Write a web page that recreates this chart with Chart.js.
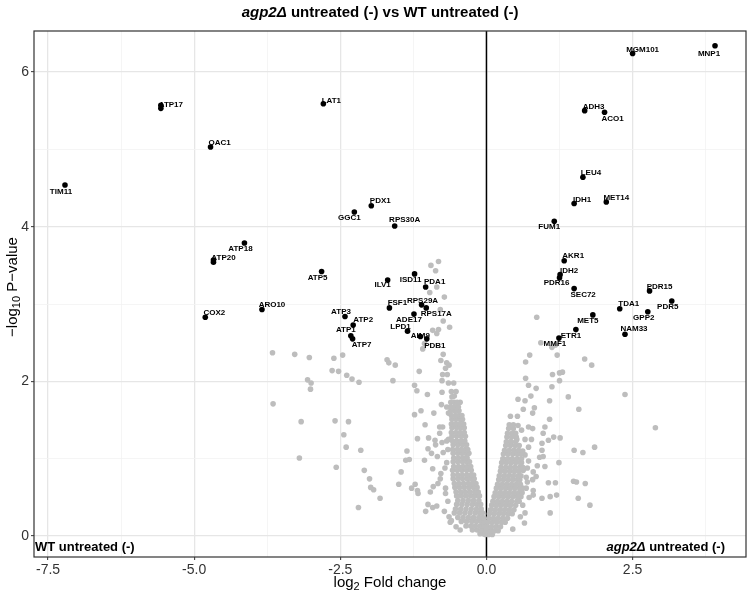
<!DOCTYPE html>
<html>
<head>
<meta charset="utf-8">
<script src="https://cdn.jsdelivr.net/npm/chart.js@4.4.1/dist/chart.umd.min.js"></script>
<style>
  html, body { margin: 0; padding: 0; background: #fff; }
  #wrap { width: 750px; height: 595px; }
</style>
</head>
<body>
<div id="wrap"><canvas id="volcano" width="750" height="595"></canvas></div>
<script>
// labelled genes (log2 fold change, -log10 p)
const geneNames = ['TIM11', 'ATP17', '', 'LAT1', 'OAC1', 'GGC1', 'PDX1', 'RPS30A', 'ATP18', 'ATP20', '', 'ATP5',
  'COX2', 'ARO10', 'ATP3', 'ATP2', 'ATP1', 'ATP7', 'ILV1', 'ISD11', 'PDA1', 'FSF1', 'RPS29A', 'RPS17A', 'ADE17',
  'LPD1', 'AIM9', 'PDB1', 'MGM101', 'MNP1', 'ADH3', 'ACO1', 'LEU4', 'IDH1', 'MET14', 'FUM1', 'AKR1', 'IDH2',
  'PDR16', 'SEC72', 'PDR15', 'PDR5', 'TDA1', 'GPP2', 'MET5', 'NAM33', 'ETR1', 'MMF1'];
const geneFC = [-7.21, -5.57, -5.57, -2.79, -4.72, -2.26, -1.97, -1.57, -4.14, -4.67, -4.67, -2.82,
  -4.81, -3.84, -2.42, -2.28, -2.32, -2.29, -1.69, -1.23, -1.04, -1.66, -1.11, -1.03, -1.24,
  -1.35, -1.13, -1.02, 2.50, 3.91, 1.68, 2.02, 1.65, 1.50, 2.05, 1.16, 1.33, 1.26,
  1.25, 1.50, 2.79, 3.17, 2.28, 2.76, 1.82, 2.37, 1.53, 1.24];
const geneLogP = [4.54, 5.53, 5.57, 5.59, 5.03, 4.19, 4.27, 4.01, 3.79, 3.54, 3.57, 3.42,
  2.83, 2.93, 2.84, 2.73, 2.59, 2.55, 3.31, 3.39, 3.22, 2.95, 2.99, 2.95, 2.87,
  2.65, 2.58, 2.55, 6.24, 6.34, 5.50, 5.48, 4.64, 4.30, 4.32, 4.07, 3.56, 3.38,
  3.34, 3.20, 3.17, 3.04, 2.94, 2.90, 2.86, 2.61, 2.67, 2.56];

// scattered non-significant proteins [log2FC, -log10 p]
const scatterLeft = [
  [-3.66, 2.37], [-3.28, 2.35], [-3.03, 2.31], [-3.06, 2.02], [-3.00, 1.98], [-3.01, 1.90], [-3.65, 1.71], [-3.17, 1.48], [-3.20, 1.01],
  [-2.61, 2.30], [-2.46, 2.34], [-2.64, 2.14], [-2.53, 2.13], [-2.39, 2.08], [-2.30, 2.03], [-2.18, 1.99],
  [-1.70, 2.28], [-1.67, 2.24], [-1.56, 2.21], [-1.60, 2.01], [-1.23, 1.95], [-1.19, 1.88], [-1.01, 1.83], [-1.15, 2.13], [-1.09, 2.42], [-1.06, 2.49],
  [-0.95, 3.50], [-0.82, 3.55], [-0.87, 3.43], [-0.85, 3.22], [-0.97, 3.15], [-0.72, 3.09], [-0.79, 2.93], [-0.74, 2.78], [-0.63, 2.70],
  [-0.82, 2.67], [-0.92, 2.66], [-0.85, 2.62], [-0.74, 2.35], [-0.78, 2.27], [-0.68, 2.24], [-0.64, 2.21], [-0.70, 2.17], [-0.75, 2.09],
  [-0.67, 2.09], [-0.76, 2.01], [-0.65, 1.98], [-0.56, 1.98], [-0.76, 1.86], [-0.60, 1.87], [-0.52, 1.87], [-0.59, 1.80], [-0.55, 1.81],
  [-0.45, 1.73], [-0.77, 1.70], [-0.68, 1.67], [-0.65, 1.59], [-0.90, 1.59], [-1.12, 1.62], [-1.23, 1.57], [-1.05, 1.44],
  [-2.59, 1.49], [-2.36, 1.48], [-2.44, 1.31], [-2.40, 1.15], [-2.15, 1.11], [-2.57, 0.89], [-2.09, 0.85], [-2.00, 0.74], [-1.98, 0.63],
  [-1.93, 0.60], [-1.82, 0.49], [-2.19, 0.37], [-1.46, 0.83], [-1.50, 0.67], [-1.36, 1.10], [-1.38, 0.98], [-1.32, 0.99], [-1.18, 1.26],
  [-0.99, 1.27], [-1.06, 0.98], [-1.00, 1.13], [-0.92, 0.87], [-1.22, 0.67], [-1.28, 0.62], [-1.17, 0.55], [-1.18, 0.59], [-1.00, 0.41],
  [-1.04, 0.32], [-0.92, 0.37], [-0.85, 0.39], [-0.96, 0.57], [-0.91, 0.64], [-0.83, 0.68], [-0.79, 0.74], [-0.78, 0.81],
  [-0.88, 1.24], [-0.87, 1.18], [-0.94, 1.07], [-0.84, 1.03], [-0.74, 1.08], [-0.80, 1.41], [-0.75, 1.41], [-0.80, 1.33], [-0.68, 1.23],
  [-0.76, 1.21], [-0.65, 1.25], [-0.70, 0.55], [-0.66, 0.45], [-0.72, 0.32], [-0.68, 0.95], [-0.71, 0.88], [-0.66, 1.12], [-0.70, 0.62],
  [-0.64, 0.25], [-0.62, 0.18], [-0.60, 0.20], [-0.52, 0.12], [-0.45, 0.08]
];
const scatterRight = [
  [0.86, 2.83], [0.93, 2.50], [1.12, 2.44], [1.18, 2.47], [0.74, 2.34], [0.67, 2.25], [1.21, 2.34], [1.68, 2.29], [1.80, 2.21], [1.13, 2.09],
  [1.25, 2.11], [1.30, 2.12], [0.67, 2.04], [0.72, 1.95], [0.85, 1.91], [1.12, 1.93], [1.25, 2.01], [1.40, 1.80], [1.58, 1.64], [2.37, 1.83],
  [2.89, 1.40], [0.54, 1.77], [0.66, 1.75], [0.76, 1.81], [0.63, 1.64], [0.82, 1.66], [0.79, 1.59], [1.08, 1.75], [0.41, 1.55], [0.53, 1.55],
  [0.54, 1.43], [0.60, 1.37], [0.72, 1.41], [0.79, 1.39], [1.00, 1.41], [1.08, 1.51], [0.97, 1.33], [1.15, 1.28], [1.26, 1.27], [1.06, 1.24],
  [0.95, 1.20], [0.77, 1.25], [0.66, 1.25], [0.52, 1.25], [0.41, 1.22], [1.50, 1.11], [1.65, 1.08], [1.85, 1.15], [0.95, 1.11], [0.91, 1.02],
  [0.97, 1.03], [1.24, 0.95], [0.72, 0.97], [0.87, 0.91], [1.00, 0.90], [0.63, 0.85], [0.80, 0.83], [0.68, 0.76], [0.79, 0.73], [0.85, 0.77],
  [1.06, 0.69], [1.18, 0.69], [1.49, 0.71], [1.54, 0.70], [1.69, 0.68], [0.68, 0.62], [0.80, 0.59], [0.73, 0.50], [0.80, 0.53], [0.95, 0.49],
  [1.09, 0.51], [1.20, 0.53], [1.57, 0.49], [1.77, 0.40], [1.09, 0.30], [0.65, 0.17], [0.45, 0.09], [0.62, 0.40], [0.66, 0.30], [0.58, 0.25],
  [0.70, 0.88], [0.66, 1.05], [0.72, 1.15], [0.70, 0.70], [0.60, 0.95], [0.62, 1.10]
];
// dense core of the volcano, rows of [-log10 p, [log2FC ...]]
const coreLeft = [
  [0.03, [-0.11, -0.05, 0.02]], [0.08, [-0.24, -0.16, -0.08, -0.01]], [0.13, [-0.35, -0.27, -0.19, -0.11, -0.04]],
  [0.19, [-0.43, -0.34, -0.25, -0.17, -0.09, -0.04]], [0.24, [-0.49, -0.40, -0.31, -0.22, -0.13, -0.06]],
  [0.30, [-0.55, -0.46, -0.37, -0.28, -0.19, -0.11, -0.07]], [0.35, [-0.53, -0.44, -0.35, -0.26, -0.17, -0.09]],
  [0.41, [-0.51, -0.42, -0.33, -0.24, -0.16, -0.10]], [0.46, [-0.49, -0.40, -0.31, -0.22, -0.13]],
  [0.52, [-0.51, -0.43, -0.35, -0.27, -0.19, -0.12]], [0.57, [-0.52, -0.44, -0.36, -0.28, -0.20, -0.14]],
  [0.63, [-0.54, -0.46, -0.38, -0.30, -0.22, -0.16]], [0.68, [-0.55, -0.47, -0.39, -0.31, -0.24, -0.18]],
  [0.74, [-0.57, -0.49, -0.41, -0.33, -0.26, -0.21]], [0.79, [-0.57, -0.49, -0.41, -0.33, -0.26, -0.22]],
  [0.85, [-0.58, -0.50, -0.42, -0.34, -0.26]], [0.90, [-0.56, -0.48, -0.40, -0.33, -0.27]],
  [0.96, [-0.57, -0.49, -0.41, -0.34, -0.29]], [1.01, [-0.56, -0.48, -0.40, -0.33]],
  [1.07, [-0.57, -0.49, -0.42, -0.35, -0.30]], [1.12, [-0.58, -0.50, -0.43, -0.36, -0.32]],
  [1.18, [-0.57, -0.49, -0.41, -0.34]], [1.23, [-0.58, -0.51, -0.44, -0.37]], [1.29, [-0.59, -0.51, -0.43, -0.36]],
  [1.34, [-0.60, -0.52, -0.45, -0.38]], [1.40, [-0.59, -0.51, -0.44, -0.38]], [1.45, [-0.60, -0.53, -0.46, -0.39]],
  [1.51, [-0.59, -0.52, -0.45, -0.41]], [1.56, [-0.60, -0.53, -0.47, -0.42]], [1.62, [-0.61, -0.54, -0.47]],
  [1.67, [-0.62, -0.55, -0.48]], [1.73, [-0.61, -0.55, -0.50]]
];
const coreRight = [
  [0.02, [-0.02, 0.04, 0.10]], [0.07, [0.00, 0.07, 0.14, 0.20]], [0.12, [0.01, 0.08, 0.16, 0.24]],
  [0.18, [0.02, 0.10, 0.18, 0.26, 0.32]], [0.23, [0.04, 0.12, 0.20, 0.28, 0.36]],
  [0.29, [0.05, 0.13, 0.21, 0.29, 0.37, 0.44]], [0.34, [0.07, 0.15, 0.23, 0.31, 0.39, 0.47]],
  [0.40, [0.09, 0.17, 0.25, 0.33, 0.41, 0.50]], [0.45, [0.11, 0.19, 0.27, 0.35, 0.43, 0.52, 0.56]],
  [0.51, [0.13, 0.21, 0.29, 0.37, 0.45, 0.53, 0.59]], [0.56, [0.15, 0.23, 0.31, 0.39, 0.47, 0.55, 0.61]],
  [0.62, [0.17, 0.25, 0.33, 0.41, 0.49, 0.57, 0.62]], [0.67, [0.19, 0.27, 0.35, 0.43, 0.51, 0.58]],
  [0.73, [0.21, 0.29, 0.37, 0.45, 0.53, 0.57]], [0.78, [0.22, 0.30, 0.38, 0.46, 0.54, 0.59]],
  [0.84, [0.24, 0.32, 0.40, 0.48, 0.56]], [0.89, [0.25, 0.33, 0.41, 0.49, 0.57, 0.62]],
  [0.95, [0.26, 0.34, 0.42, 0.50, 0.58]], [1.00, [0.28, 0.36, 0.44, 0.52, 0.60]],
  [1.06, [0.29, 0.37, 0.45, 0.53, 0.59]], [1.11, [0.31, 0.39, 0.47, 0.55]], [1.17, [0.33, 0.41, 0.49, 0.56]],
  [1.22, [0.34, 0.42, 0.50]], [1.28, [0.35, 0.43, 0.51]], [1.33, [0.36, 0.44, 0.50]],
  [1.39, [0.38, 0.46]], [1.44, [0.39, 0.46]]
];

// x axis tick labels shown (every 2.5), y every 2
const xTickLabels = [-7.5, -5.0, -2.5, 0.0, 2.5];
const yTickLabels = [0, 2, 4, 6];

const FONT = '"Liberation Sans", Arial, Helvetica, sans-serif';

// label placement (text centre relative to the point, px)
const labelNudge = {
  TIM11: [-4, 7], ATP17: [10, -4], LAT1: [8, -3], OAC1: [9, -4], GGC1: [-5, 6], PDX1: [9, -5], RPS30A: [10, -6],
  ATP18: [-4, 6], ATP20: [10, -4], ATP5: [-4, 6], COX2: [9, -4], ARO10: [10, -5], ATP3: [-4, -5], ATP2: [10, -5],
  ATP1: [-5, -6], ATP7: [9, 6], ILV1: [-5, 5], ISD11: [-4, 6], PDA1: [9, -5], FSF1: [8, -5], RPS29A: [1, -4],
  RPS17A: [10, 6], ADE17: [-5, 6], LPD1: [-7, -4], AIM9: [0, -1], PDB1: [8, 7], MGM101: [10, -4], MNP1: [-6, 8],
  ADH3: [9, -4], ACO1: [8, 7], LEU4: [8, -4], IDH1: [8, -4], MET14: [10, -4], FUM1: [-5, 6], AKR1: [9, -5],
  IDH2: [9, -4], PDR16: [-3, 5], SEC72: [9, 6], PDR15: [10, -4], PDR5: [-4, 6], TDA1: [9, -5], GPP2: [-4, 6],
  MET5: [-5, 6], NAM33: [9, -5], ETR1: [-5, 6], MMF1: [-4, 6]
};

function drawRich(ctx, parts, x, y, align) {
  let total = 0;
  parts.forEach(p => { ctx.font = p.font; p.w = ctx.measureText(p.text).width; total += p.w; });
  let cx = align === 'center' ? x - total / 2 : (align === 'right' ? x - total : x);
  ctx.textAlign = 'left';
  ctx.textBaseline = 'middle';
  parts.forEach(p => {
    ctx.font = p.font;
    ctx.fillText(p.text, cx, y + (p.dy || 0));
    cx += p.w;
  });
}

const volcanoDecor = {
  id: 'volcanoDecor',
  beforeDatasetsDraw(chart) {
    const ctx = chart.ctx, a = chart.chartArea;
    const x0 = chart.scales.x.getPixelForValue(0);
    ctx.save();
    ctx.strokeStyle = '#000';
    ctx.lineWidth = 1.5;
    ctx.beginPath();
    ctx.moveTo(x0, a.top);
    ctx.lineTo(x0, a.bottom);
    ctx.stroke();
    ctx.restore();
  },
  afterDatasetsDraw(chart) {
    const ctx = chart.ctx;
    const meta = chart.getDatasetMeta(0);
    ctx.save();
    ctx.fillStyle = '#000';
    ctx.font = 'bold 8px ' + FONT;
    ctx.textAlign = 'center';
    ctx.textBaseline = 'middle';
    meta.data.forEach((pt, i) => {
      const name = geneNames[i];
      if (!name) return;
      const n = labelNudge[name] || [8, -4];
      ctx.fillText(name, pt.x + n[0], pt.y + n[1]);
    });
    ctx.restore();
  },
  afterDraw(chart) {
    const ctx = chart.ctx, a = chart.chartArea;
    ctx.save();
    // panel border
    ctx.strokeStyle = '#333';
    ctx.lineWidth = 1.2;
    ctx.strokeRect(a.left, a.top, a.right - a.left, a.bottom - a.top);
    ctx.fillStyle = '#000';
    // title
    drawRich(ctx, [
      { text: 'agp2Δ', font: 'italic bold 15px ' + FONT },
      { text: ' untreated (-) vs WT untreated (-)', font: 'bold 15px ' + FONT }
    ], 380, 13, 'center');
    // corner annotations
    drawRich(ctx, [{ text: 'WT untreated (-)', font: 'bold 13px ' + FONT }], a.left + 1, 547, 'left');
    drawRich(ctx, [
      { text: 'agp2Δ', font: 'italic bold 13px ' + FONT },
      { text: ' untreated (-)', font: 'bold 13px ' + FONT }
    ], 725, 547, 'right');
    // axis titles
    drawRich(ctx, [
      { text: 'log', font: '15px ' + FONT },
      { text: '2', font: '11px ' + FONT, dy: 4 },
      { text: ' Fold change', font: '15px ' + FONT }
    ], (a.left + a.right) / 2, 583, 'center');
    ctx.translate(13, 287);
    ctx.rotate(-Math.PI / 2);
    drawRich(ctx, [
      { text: '\u2212log', font: '15px ' + FONT },
      { text: '10', font: '11px ' + FONT, dy: 4 },
      { text: ' P\u2212value', font: '15px ' + FONT }
    ], 0, 0, 'center');
    ctx.restore();
  }
};

const genePoints = geneFC.map((fc, i) => ({ x: fc, y: geneLogP[i] }));
const bgPoints = [];
scatterLeft.concat(scatterRight).forEach(p => bgPoints.push({ x: p[0], y: p[1] }));
coreLeft.concat(coreRight).forEach(row => row[1].forEach(fc => bgPoints.push({ x: fc, y: row[0] })));

function isMajor(v, step) {
  return Math.abs(v / step - Math.round(v / step)) < 1e-6;
}

new Chart(document.getElementById('volcano'), {
  type: 'scatter',
  data: {
    datasets: [
      {
        label: 'significant',
        data: genePoints,
        backgroundColor: '#000',
        borderWidth: 0,
        pointRadius: 2.8,
        order: 0
      },
      {
        label: 'other',
        data: bgPoints,
        backgroundColor: '#BDBDBD',
        borderWidth: 0,
        pointRadius: 2.8,
        order: 1
      }
    ]
  },
  options: {
    responsive: false,
    animation: false,
    devicePixelRatio: 1,
    layout: { padding: { top: 31, right: 2, left: 0, bottom: 0 } },
    plugins: {
      legend: { display: false },
      tooltip: { enabled: false },
      title: { display: false }
    },
    scales: {
      x: {
        type: 'linear',
        min: -7.74,
        max: 4.44,
        afterFit: s => { s.height = 38; },
        border: { display: false },
        grid: {
          color: c => isMajor(c.tick.value, 2.5) ? '#E6E6E6' : '#F3F3F3',
          lineWidth: c => isMajor(c.tick.value, 2.5) ? 1.3 : 0.8,
          tickColor: c => isMajor(c.tick.value, 2.5) ? '#333' : 'rgba(0,0,0,0)',
          tickLength: 3,
          tickWidth: 1
        },
        ticks: {
          stepSize: 1.25,
          includeBounds: false,
          autoSkip: false,
          maxRotation: 0,
          padding: 2,
          color: '#333',
          font: { family: FONT, size: 14 },
          callback: v => {
            const hit = xTickLabels.find(t => Math.abs(t - v) < 1e-6);
            return hit === undefined ? '' : hit.toFixed(1);
          }
        }
      },
      y: {
        type: 'linear',
        min: -0.27,
        max: 6.53,
        afterFit: s => { s.width = 34; },
        border: { display: false },
        grid: {
          color: c => isMajor(c.tick.value, 2) ? '#E6E6E6' : '#F3F3F3',
          lineWidth: c => isMajor(c.tick.value, 2) ? 1.3 : 0.8,
          tickColor: c => isMajor(c.tick.value, 2) ? '#333' : 'rgba(0,0,0,0)',
          tickLength: 3,
          tickWidth: 1
        },
        ticks: {
          stepSize: 1,
          includeBounds: false,
          autoSkip: false,
          padding: 2,
          color: '#333',
          font: { family: FONT, size: 14 },
          callback: v => (yTickLabels.indexOf(v) >= 0 ? String(v) : '')
        }
      }
    }
  },
  plugins: [volcanoDecor]
});
</script>
</body>
</html>
